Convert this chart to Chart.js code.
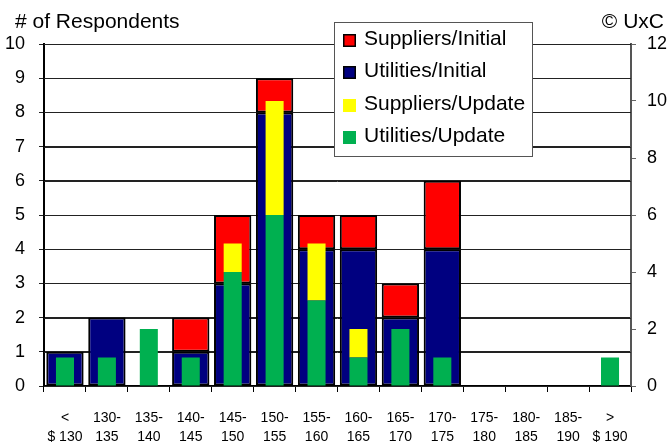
<!DOCTYPE html>
<html><head><meta charset="utf-8">
<script src="https://cdn.jsdelivr.net/npm/chart.js@4.4.1/dist/chart.umd.min.js"></script>
<style>html,body{margin:0;padding:0;background:#fff;}#wrap{width:670px;height:445px;position:relative;}</style>
</head><body><div id="wrap"><canvas id="c" width="670" height="445"></canvas></div>
<script>
const categories = [["<","$ 130"],["130-","135"],["135-","140"],["140-","145"],["145-","150"],["150-","155"],["155-","160"],["160-","165"],["165-","170"],["170-","175"],["175-","180"],["180-","185"],["185-","190"],[">","$ 190"]];
const utilitiesInitial = [1,2,0,1,3,8,4,4,2,4,0,0,0,0];
const suppliersInitial = [0,0,0,1,2,1,1,1,1,2,0,0,0,0];
const utilitiesUpdate  = [1,1,2,1,4,6,3,1,2,1,0,0,0,1];
const suppliersUpdate  = [0,0,0,0,1,4,2,1,0,0,0,0,0,0];
const leftAxisMax = 10;
const rightAxisMax = 12;
const legendOrder = ["Suppliers/Initial","Utilities/Initial","Suppliers/Update","Utilities/Update"];
const yLabel = "# of Respondents";
const copyright = "\u00A9 UxC";

const FONT = '"Liberation Sans", Arial, sans-serif';

const gridPlugin = {
  id: 'leftGrid',
  beforeDatasetsDraw(chart) {
    const ctx = chart.ctx, area = chart.chartArea, ys = chart.scales.y;
    ctx.save();
    ctx.strokeStyle = '#222';
    ctx.lineWidth = 1;
    ctx.beginPath();
    ys.ticks.forEach(t => {
      const py = Math.round(ys.getPixelForValue(t.value)) + 0.5;
      ctx.moveTo(area.left, py);
      ctx.lineTo(area.right, py);
    });
    ctx.stroke();
    ctx.restore();
  }
};

const overlayPlugin = {
  id: 'overlay',
  afterDraw(chart) {
    const ctx = chart.ctx;
    ctx.save();
    ctx.fillStyle = '#000';
    ctx.textBaseline = 'alphabetic';
    ctx.font = '21px ' + FONT;
    ctx.textAlign = 'left';
    ctx.fillText(yLabel, 15, 28);
    ctx.textAlign = 'right';
    ctx.fillText(copyright, 664, 28);
    const bx = 334, by = 22, bw = 198, bh = 134;
    ctx.fillStyle = '#fff';
    ctx.fillRect(bx, by, bw, bh);
    ctx.strokeStyle = '#555';
    ctx.lineWidth = 1;
    ctx.strokeRect(bx + 0.5, by + 0.5, bw, bh);
    ctx.textAlign = 'left';
    legendOrder.forEach((lbl, i) => {
      const ds = chart.data.datasets.find(d => d.label === lbl);
      const base = 45 + i * 32.3;
      const sy = Math.round(base - 11);
      ctx.fillStyle = ds.backgroundColor;
      ctx.fillRect(343, sy, 13, 13);
      if (ds.borderWidth) {
        ctx.strokeStyle = '#000';
        ctx.lineWidth = 1.5;
        ctx.strokeRect(343.75, sy + 0.75, 11.5, 11.5);
      }
      ctx.fillStyle = '#000';
      ctx.fillText(lbl, 364, base);
    });
    ctx.restore();
  }
};

new Chart(document.getElementById('c'), {
  type: 'bar',
  data: {
    labels: categories,
    datasets: [
      { label: 'Utilities/Update', data: utilitiesUpdate, backgroundColor: '#00B050', borderWidth: 0,
        yAxisID: 'y2', stack: 'update', order: 1, barPercentage: 0.43, categoryPercentage: 1, grouped: false },
      { label: 'Suppliers/Update', data: suppliersUpdate, backgroundColor: '#FFFF00', borderWidth: 0,
        yAxisID: 'y2', stack: 'update', order: 1, barPercentage: 0.43, categoryPercentage: 1, grouped: false },
      { label: 'Utilities/Initial', data: utilitiesInitial, backgroundColor: '#000080', borderColor: '#000', borderWidth: 2, borderSkipped: false,
        yAxisID: 'y', stack: 'initial', order: 2, barPercentage: 0.89, categoryPercentage: 1, grouped: false },
      { label: 'Suppliers/Initial', data: suppliersInitial, backgroundColor: '#FF0000', borderColor: '#000', borderWidth: 2, borderSkipped: false,
        yAxisID: 'y', stack: 'initial', order: 2, barPercentage: 0.89, categoryPercentage: 1, grouped: false }
    ]
  },
  options: {
    responsive: false,
    animation: false,
    devicePixelRatio: 1,
    layout: { padding: { top: 44, left: 0, right: 0, bottom: 0 } },
    plugins: { legend: { display: false }, tooltip: { enabled: false }, title: { display: false } },
    scales: {
      x: {
        stacked: true,
        offset: true,
        grid: { display: true, drawOnChartArea: false, drawTicks: true, tickLength: 6, color: '#000', offset: true },
        border: { display: true, color: '#000', width: 1.5 },
        ticks: { color: '#000', font: { family: FONT, size: 14, lineHeight: 1.4 }, padding: 16, maxRotation: 0, autoSkip: false },
        afterFit(s) { s.height = 59; }
      },
      y: {
        position: 'left',
        stacked: true,
        min: 0, max: leftAxisMax,
        ticks: { stepSize: 1, color: '#000', font: { family: FONT, size: 18 }, padding: 14 },
        grid: { display: true, drawOnChartArea: true, drawTicks: true, color: '#222', lineWidth: 1, tickLength: 5 },
        border: { display: true, color: '#000', width: 2 },
        afterFit(s) { s.width = 44; }
      },
      y2: {
        position: 'right',
        stacked: true,
        min: 0, max: rightAxisMax,
        ticks: { stepSize: 2, color: '#000', font: { family: FONT, size: 18 }, padding: 11 },
        grid: { display: true, drawOnChartArea: false, color: '#666', tickLength: 5 },
        border: { display: true, color: '#555', width: 2 },
        afterFit(s) { s.width = 39; }
      }
    }
  },
  plugins: [gridPlugin, overlayPlugin]
});
</script>
</body></html>
